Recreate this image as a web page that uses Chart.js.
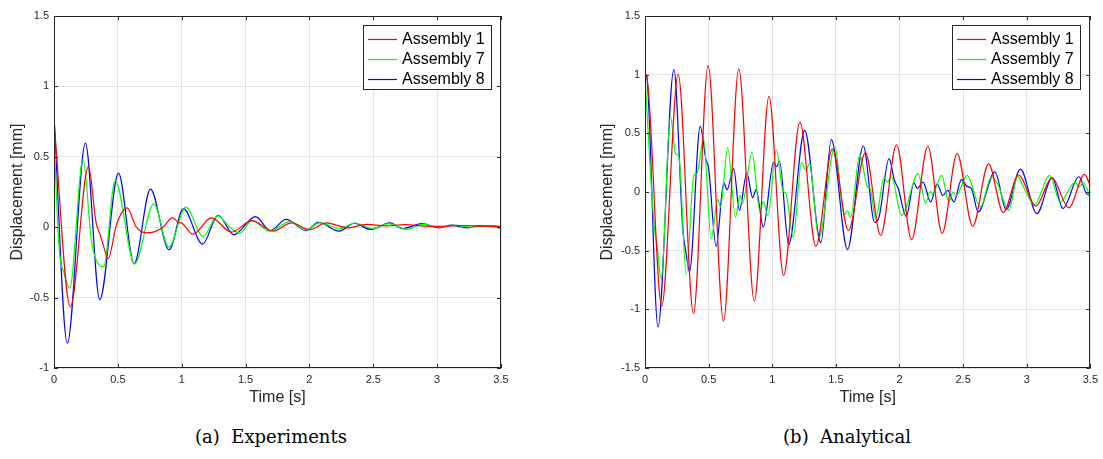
<!DOCTYPE html>
<html>
<head>
<meta charset="utf-8">
<script src="https://cdn.jsdelivr.net/npm/chart.js@4.4.1/dist/chart.umd.min.js"></script>
<style>
  body { margin: 0; background: #fff; width: 1103px; height: 459px; position: relative; overflow: hidden; }
  canvas { position: absolute; top: 0; }
  #chart-exp { left: 0; }
  #chart-ana { left: 580px; }
  .cap { position: absolute; top: 426px; font-family: "DejaVu Serif", serif; font-size: 18px; line-height: 22px; color: #000; white-space: pre; transform: translateX(-50%); }
</style>
</head>
<body>
<canvas id="chart-exp" width="520" height="411"></canvas>
<canvas id="chart-ana" width="523" height="411"></canvas>
<div class="cap" style="left:271px">(a)  Experiments</div>
<div class="cap" style="left:847px">(b)  Analytical</div>
<script>
// series names
var seriesNames = ["Assembly 1", "Assembly 7", "Assembly 8"];
var seriesColors = ["#ff0000", "#00ff00", "#0000ff"];

// x / y ticks
var timeTicks = [0, 0.5, 1, 1.5, 2, 2.5, 3, 3.5];
var expDispTicks = [-1, -0.5, 0, 0.5, 1, 1.5];
var anaDispTicks = [-1.5, -1, -0.5, 0, 0.5, 1, 1.5];

// (a) experiments (time [s], displacement [mm])
var expT1 = [0, 0.128, 0.27, 0.33, 0.36, 0.39, 0.423, 0.49, 0.572, 0.645, 0.724, 0.79, 0.854, 0.927, 0.975, 1.0, 1.087, 1.233, 1.39, 1.55, 1.716, 1.86, 2.0, 2.134, 2.3, 2.45, 2.6, 2.75, 2.9, 3.05, 3.2, 3.35, 3.5];
var expY1 = [0.75, -0.565, 0.43, 0.03, -0.05, -0.14, -0.225, 0.02, 0.137, 0.0, -0.04, -0.031, 0.0, 0.066, 0.035, 0.03, -0.05, 0.066, -0.035, 0.047, -0.028, 0.031, -0.017, 0.031, -0.005, 0.02, 0.01, 0.018, 0.008, 0.006, 0.012, 0.008, 0.005];

var expT7 = [0, 0.04, 0.08, 0.123, 0.227, 0.293, 0.332, 0.389, 0.478, 0.632, 0.781, 0.899, 1.032, 1.168, 1.28, 1.377, 1.455, 1.55, 1.69, 1.847, 1.972, 2.082, 2.24, 2.355, 2.495, 2.62, 2.76, 2.89, 3.02, 3.14, 3.27, 3.38, 3.5];
var expY7 = [0.63, -0.15, -0.33, -0.435, 0.48, -0.095, -0.237, -0.28, 0.331, -0.26, 0.166, -0.142, 0.142, -0.066, 0.08, 0.0, -0.043, 0.045, -0.028, 0.04, -0.02, 0.031, -0.01, 0.03, -0.01, 0.025, -0.015, 0.02, 0.0, 0.015, 0.0, 0.01, -0.01];

var expT8 = [0, 0.104, 0.246, 0.358, 0.505, 0.627, 0.755, 0.901, 1.013, 1.163, 1.285, 1.408, 1.578, 1.693, 1.818, 1.975, 2.07, 2.233, 2.351, 2.48, 2.63, 2.73, 2.88, 3.02, 3.11, 3.23, 3.34, 3.5];
var expY8 = [0.79, -0.824, 0.597, -0.514, 0.384, -0.26, 0.27, -0.161, 0.132, -0.12, 0.085, -0.054, 0.075, -0.025, 0.055, -0.023, 0.035, -0.028, 0.028, -0.016, 0.031, -0.01, 0.025, -0.005, 0.015, -0.005, 0.012, 0.005];

// (b) analytical
var anaT1 = [0, 0.012, 0.131, 0.261, 0.381, 0.496, 0.617, 0.737, 0.859, 0.974, 1.089, 1.217, 1.343, 1.473, 1.599, 1.732, 1.852, 1.977, 2.095, 2.223, 2.335, 2.453, 2.575, 2.70, 2.815, 2.935, 3.072, 3.198, 3.33, 3.455, 3.5];
var anaY1 = [1.0, 0.99, -0.975, 1.003, -1.037, 1.08, -1.10, 1.05, -0.93, 0.815, -0.71, 0.595, -0.463, 0.367, -0.33, 0.336, -0.37, 0.405, -0.408, 0.39, -0.352, 0.327, -0.292, 0.24, -0.175, 0.145, -0.12, 0.12, -0.135, 0.151, 0.05];

var anaT7 = [0, 0.037, 0.076, 0.094, 0.128, 0.199, 0.24, 0.266, 0.324, 0.384, 0.408, 0.46, 0.52, 0.572, 0.593, 0.65, 0.711, 0.747, 0.765, 0.841, 0.904, 0.93, 0.965, 1.033, 1.082, 1.108, 1.165, 1.23, 1.264, 1.293, 1.366, 1.492, 1.565, 1.59, 1.615, 1.688, 1.748, 1.77, 1.813, 1.879, 1.905, 1.936, 2.017, 2.147, 2.205, 2.244, 2.26, 2.331, 2.388, 2.42, 2.445, 2.531, 2.636, 2.722, 2.77, 2.858, 2.929, 2.975, 3.06, 3.18, 3.263, 3.381, 3.41, 3.446, 3.5];
var anaY7 = [1.0, 0.27, -0.33, -0.45, -0.745, 0.645, 0.33, 0.30, -0.70, 0.142, 0.156, 0.455, -0.40, -0.065, -0.128, 0.378, -0.213, -0.028, -0.1, 0.335, -0.165, -0.08, -0.2, 0.36, 0.014, -0.014, -0.384, 0.25, 0.185, 0.242, -0.39, 0.384, -0.2, -0.16, -0.22, 0.318, 0.043, 0.03, -0.227, 0.12, 0.085, 0.13, -0.2, 0.157, -0.094, 0.006, -0.02, 0.142, -0.085, 0.0, -0.03, 0.142, -0.128, 0.128, 0.07, -0.156, 0.134, 0.043, -0.11, 0.142, -0.085, 0.085, 0.043, 0.077, -0.05];

var anaT8 = [0, 0.012, 0.102, 0.227, 0.298, 0.324, 0.35, 0.434, 0.48, 0.499, 0.559, 0.619, 0.645, 0.697, 0.742, 0.80, 0.846, 0.873, 0.93, 1.01, 1.035, 1.057, 1.129, 1.255, 1.382, 1.464, 1.591, 1.716, 1.805, 1.84, 1.918, 1.96, 1.99, 2.053, 2.114, 2.14, 2.185, 2.245, 2.296, 2.34, 2.38, 2.427, 2.487, 2.53, 2.566, 2.618, 2.75, 2.838, 2.95, 3.08, 3.2, 3.284, 3.41, 3.47, 3.5];
var anaY8 = [1.0, 0.99, -1.15, 1.045, -0.33, -0.53, -0.68, 0.56, 0.27, 0.21, -0.463, 0.077, 0.02, 0.2, -0.156, 0.162, -0.048, 0.02, -0.30, 0.25, 0.215, 0.264, -0.449, 0.526, -0.432, 0.447, -0.489, 0.392, -0.26, -0.21, 0.285, 0.1, 0.03, -0.207, 0.077, 0.03, 0.085, -0.085, 0.07, -0.03, 0.014, -0.085, 0.105, 0.048, 0.028, -0.17, 0.172, -0.15, 0.195, -0.184, 0.123, -0.14, 0.13, -0.015, -0.03];

var axisColor = "#262626";
var gridColor = "#e3e3e3";
var sansFont = '"Liberation Sans", Arial, sans-serif';

function pts(ts, ys) {
  return ts.map(function (t, i) {
    return { x: t, y: ys[i] };
  });
}

// matlab style box, inner ticks and the legend inside the plot
var frame = {
  id: "frame",
  afterDatasetsDraw: function (chart) {
    var ctx = chart.ctx;
    var a = chart.chartArea;
    var xs = chart.scales.x;
    var ys = chart.scales.y;
    ctx.save();
    ctx.strokeStyle = axisColor;
    ctx.lineWidth = 1;
    ctx.beginPath();
    xs.ticks.forEach(function (t) {
      var px = Math.round(xs.getPixelForValue(t.value)) + 0.5;
      ctx.moveTo(px, a.bottom);
      ctx.lineTo(px, a.bottom - 4);
      ctx.moveTo(px, a.top);
      ctx.lineTo(px, a.top + 4);
    });
    ys.ticks.forEach(function (t) {
      var py = Math.round(ys.getPixelForValue(t.value)) + 0.5;
      ctx.moveTo(a.left, py);
      ctx.lineTo(a.left + 4, py);
      ctx.moveTo(a.right, py);
      ctx.lineTo(a.right - 4, py);
    });
    ctx.stroke();
    ctx.strokeRect(Math.round(a.left) + 0.5, Math.round(a.top) + 0.5, Math.round(a.right - a.left) - 1, Math.round(a.bottom - a.top) - 1);

    // legend
    var bw = 128, bh = 64;
    var bx = Math.round(a.right) - 10 - bw;
    var by = Math.round(a.top) + 9;
    ctx.fillStyle = "#fff";
    ctx.fillRect(bx, by, bw, bh);
    ctx.strokeStyle = axisColor;
    ctx.strokeRect(bx + 0.5, by + 0.5, bw, bh);
    ctx.font = "16px " + sansFont;
    ctx.textBaseline = "middle";
    chart.data.datasets.forEach(function (ds, i) {
      var y = by + 14 + i * 20;
      ctx.strokeStyle = ds.borderColor;
      ctx.lineWidth = 1.2;
      ctx.beginPath();
      ctx.moveTo(bx + 5, y + 0.5);
      ctx.lineTo(bx + 34, y + 0.5);
      ctx.stroke();
      ctx.fillStyle = "#000";
      ctx.fillText(ds.label, bx + 39, y + 1);
    });
    ctx.restore();
  }
};

function tickLabel(v) {
  return String(v);
}

function makeChart(id, series, yTicks, padLeft, padRight, yWidth) {
  var ctx = document.getElementById(id);
  return new Chart(ctx, {
    type: "line",
    data: {
      datasets: series.map(function (s, i) {
        return {
          label: seriesNames[i],
          data: s,
          borderColor: seriesColors[i],
          backgroundColor: seriesColors[i],
          borderWidth: 1.2,
          pointRadius: 0,
          fill: false,
          cubicInterpolationMode: "monotone"
        };
      })
    },
    options: {
      responsive: false,
      animation: false,
      layout: { padding: { left: padLeft, right: padRight, top: 16, bottom: 0 } },
      plugins: {
        legend: { display: false },
        tooltip: { enabled: false }
      },
      scales: {
        x: {
          type: "linear",
          min: timeTicks[0],
          max: timeTicks[timeTicks.length - 1],
          afterBuildTicks: function (s) {
            s.ticks = timeTicks.map(function (v) { return { value: v }; });
          },
          ticks: { color: axisColor, font: { family: sansFont, size: 11 }, padding: 5, maxRotation: 0, callback: tickLabel },
          grid: { color: gridColor, drawTicks: false },
          border: { display: false },
          title: { display: true, text: "Time [s]", color: axisColor, font: { family: sansFont, size: 16 } },
          afterFit: function (s) { s.height = 43; }
        },
        y: {
          min: yTicks[0],
          max: yTicks[yTicks.length - 1],
          afterBuildTicks: function (s) {
            s.ticks = yTicks.map(function (v) { return { value: v }; });
          },
          ticks: { color: axisColor, font: { family: sansFont, size: 11 }, padding: 5, callback: tickLabel },
          grid: { color: gridColor, drawTicks: false },
          border: { display: false },
          title: { display: true, text: "Displacement [mm]", color: axisColor, font: { family: sansFont, size: 16 } },
          afterFit: function (s) { s.width = yWidth; }
        }
      }
    },
    plugins: [frame]
  });
}

makeChart("chart-exp", [pts(expT1, expY1), pts(expT7, expY7), pts(expT8, expY8)], expDispTicks, 4, 19, 50);
makeChart("chart-ana", [pts(anaT1, anaY1), pts(anaT7, anaY7), pts(anaT8, anaY8)], anaDispTicks, 14, 11, 51);
</script>
</body>
</html>
